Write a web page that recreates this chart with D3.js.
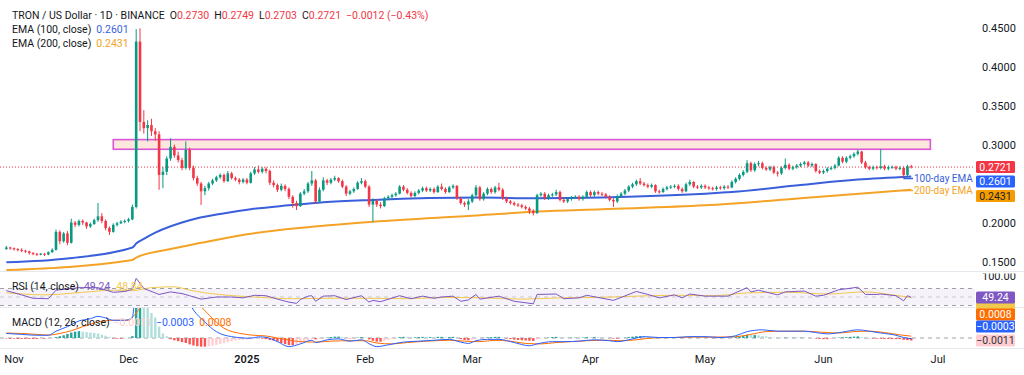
<!DOCTYPE html>
<html>
<head>
<meta charset="utf-8">
<script src="https://cdn.jsdelivr.net/npm/d3@7"></script>
<style>
  body { margin: 0; background: #fff; }
  svg { display: block; font-family: Roboto, "Noto Sans", sans-serif; }
</style>
</head>
<body>
<svg id="chart" width="1024" height="375"></svg>
<script>
// TRX/USD daily, 30 Oct 2024 -> 24 Jun 2025 (one value per day)
const startDay = new Date(Date.UTC(2024, 9, 30));
const firstOpen = 0.167;

const closes = [
  0.169,0.168,0.167,0.166,0.165,0.164,0.162,0.161,0.160,0.161,
  0.160,0.163,0.166,0.189,0.177,0.187,0.175,0.201,0.198,0.203,
  0.201,0.196,0.199,0.204,0.209,0.203,0.194,0.189,0.198,0.200,
  0.202,0.203,0.205,0.221,0.433,0.330,0.322,0.326,0.318,0.314,
  0.262,0.266,0.283,0.298,0.287,0.281,0.271,0.294,0.271,0.258,
  0.251,0.241,0.245,0.251,0.255,0.259,0.262,0.254,0.264,0.258,
  0.256,0.253,0.256,0.252,0.264,0.269,0.266,0.270,0.267,0.252,
  0.249,0.243,0.248,0.244,0.234,0.226,0.222,0.238,0.241,0.251,
  0.255,0.228,0.243,0.255,0.252,0.256,0.258,0.254,0.247,0.238,
  0.241,0.244,0.252,0.254,0.247,0.224,0.229,0.224,0.222,0.232,
  0.234,0.236,0.238,0.247,0.243,0.239,0.235,0.239,0.242,0.245,
  0.242,0.244,0.240,0.247,0.244,0.240,0.246,0.248,0.232,0.226,
  0.224,0.228,0.236,0.246,0.231,0.238,0.244,0.240,0.246,0.243,
  0.232,0.228,0.226,0.224,0.223,0.221,0.219,0.216,0.213,0.236,
  0.238,0.232,0.236,0.237,0.240,0.230,0.228,0.231,0.233,0.234,
  0.231,0.234,0.240,0.236,0.240,0.238,0.237,0.234,0.230,0.228,
  0.235,0.238,0.242,0.247,0.250,0.254,0.251,0.249,0.247,0.249,
  0.241,0.240,0.244,0.246,0.247,0.248,0.244,0.241,0.250,0.253,
  0.247,0.246,0.248,0.246,0.245,0.244,0.246,0.245,0.247,0.246,
  0.253,0.257,0.262,0.266,0.277,0.268,0.276,0.277,0.271,0.269,
  0.272,0.265,0.264,0.271,0.275,0.270,0.272,0.274,0.276,0.278,
  0.274,0.276,0.267,0.265,0.267,0.270,0.271,0.274,0.284,0.279,
  0.284,0.286,0.289,0.292,0.278,0.272,0.270,0.272,0.271,0.273,
  0.270,0.272,0.272,0.270,0.271,0.262,0.273,0.2721
];
const highs = [
  0.171,0.170,0.169,0.168,0.168,0.166,0.165,0.163,0.162,0.162,
  0.162,0.164,0.168,0.192,0.191,0.189,0.190,0.206,0.203,0.205,
  0.205,0.202,0.201,0.206,0.226,0.213,0.205,0.196,0.200,0.202,
  0.204,0.205,0.207,0.224,0.449,0.450,0.345,0.332,0.334,0.322,
  0.318,0.272,0.286,0.309,0.301,0.292,0.284,0.305,0.297,0.274,
  0.261,0.253,0.248,0.253,0.257,0.261,0.264,0.264,0.267,0.266,
  0.260,0.258,0.258,0.258,0.266,0.272,0.274,0.272,0.272,0.269,
  0.255,0.251,0.251,0.250,0.246,0.236,0.229,0.240,0.244,0.253,
  0.267,0.257,0.246,0.259,0.257,0.258,0.261,0.259,0.256,0.249,
  0.243,0.246,0.254,0.258,0.256,0.249,0.232,0.231,0.227,0.234,
  0.236,0.238,0.240,0.249,0.249,0.245,0.241,0.241,0.244,0.247,
  0.247,0.246,0.246,0.249,0.251,0.246,0.248,0.250,0.249,0.234,
  0.228,0.231,0.238,0.249,0.248,0.240,0.246,0.246,0.248,0.252,
  0.245,0.234,0.230,0.228,0.226,0.225,0.223,0.221,0.218,0.238,
  0.240,0.240,0.238,0.239,0.243,0.242,0.232,0.233,0.235,0.236,
  0.236,0.236,0.242,0.242,0.242,0.242,0.240,0.239,0.236,0.232,
  0.237,0.240,0.244,0.249,0.252,0.256,0.258,0.253,0.251,0.251,
  0.250,0.243,0.246,0.248,0.249,0.250,0.250,0.246,0.252,0.256,
  0.254,0.249,0.250,0.250,0.248,0.247,0.248,0.248,0.249,0.249,
  0.255,0.259,0.264,0.268,0.281,0.279,0.278,0.280,0.279,0.273,
  0.274,0.274,0.267,0.273,0.283,0.277,0.274,0.276,0.278,0.280,
  0.280,0.278,0.277,0.269,0.269,0.272,0.273,0.276,0.286,0.286,
  0.286,0.288,0.291,0.294,0.293,0.280,0.274,0.274,0.274,0.295,
  0.275,0.274,0.274,0.274,0.273,0.273,0.275,0.2749
];
const lows = [
  0.166,0.166,0.165,0.164,0.163,0.162,0.160,0.159,0.158,0.159,
  0.158,0.159,0.162,0.165,0.173,0.175,0.172,0.174,0.195,0.196,
  0.198,0.193,0.194,0.198,0.202,0.200,0.191,0.185,0.188,0.196,
  0.199,0.200,0.201,0.204,0.219,0.318,0.315,0.305,0.312,0.306,
  0.243,0.245,0.262,0.280,0.284,0.278,0.268,0.269,0.268,0.255,
  0.248,0.2235,0.236,0.242,0.249,0.253,0.257,0.252,0.253,0.256,
  0.254,0.250,0.251,0.250,0.251,0.262,0.264,0.264,0.264,0.249,
  0.246,0.240,0.241,0.241,0.231,0.220,0.217,0.221,0.236,0.239,
  0.248,0.225,0.226,0.241,0.249,0.250,0.254,0.252,0.245,0.235,
  0.236,0.239,0.243,0.250,0.245,0.221,0.202,0.221,0.219,0.221,
  0.230,0.232,0.234,0.237,0.241,0.237,0.233,0.233,0.237,0.240,
  0.240,0.240,0.238,0.239,0.242,0.238,0.239,0.244,0.230,0.224,
  0.221,0.217,0.226,0.234,0.229,0.229,0.236,0.238,0.238,0.241,
  0.230,0.226,0.224,0.222,0.221,0.219,0.217,0.212,0.210,0.212,
  0.234,0.230,0.230,0.234,0.235,0.228,0.226,0.226,0.229,0.231,
  0.229,0.229,0.232,0.234,0.234,0.236,0.235,0.232,0.228,0.221,
  0.226,0.233,0.236,0.240,0.245,0.248,0.249,0.247,0.245,0.245,
  0.239,0.238,0.239,0.242,0.244,0.245,0.242,0.239,0.240,0.248,
  0.245,0.244,0.244,0.244,0.243,0.242,0.242,0.243,0.243,0.244,
  0.245,0.251,0.255,0.260,0.264,0.266,0.266,0.273,0.269,0.267,
  0.267,0.263,0.260,0.262,0.269,0.268,0.268,0.270,0.272,0.274,
  0.272,0.272,0.265,0.263,0.263,0.265,0.268,0.269,0.273,0.277,
  0.277,0.282,0.284,0.287,0.276,0.270,0.268,0.268,0.269,0.269,
  0.268,0.268,0.270,0.268,0.268,0.259,0.260,0.2703
];

// EMA lines: [day index, value]
const ema100 = [[0,0.150],[16,0.155],[33,0.169],[34,0.174],[36,0.180],[39,0.188],[48,0.204],[56,0.212],
  [64,0.218],[74,0.223],[83,0.227],[96,0.230],[124,0.233],[139,0.232],[156,0.233],[163,0.234],
  [183,0.238],[190,0.240],[208,0.249],[223,0.256],[237,0.2601]];
const ema200 = [[0,0.140],[33,0.153],[34,0.156],[42,0.166],[51,0.175],[63,0.186],[79,0.195],[96,0.202],
  [123,0.210],[139,0.215],[156,0.218],[183,0.223],[208,0.232],[237,0.2431]];

// RSI (14) and its MA: [day index, value]
const rsi = [[0,65],[4,55],[7,47],[11,46],[13,66],[19,72],[24,72],[28,61],[31,63],[33,68],[34,94],[36,70],
  [40,56],[43,62],[46,58],[48,53],[51,45],[55,50],[59,50],[62,48],[65,54],[68,53],[71,45],[74,38],[76,35],
  [77,44],[79,52],[80,53],[81,40],[83,52],[86,53],[89,44],[93,53],[95,38],[96,42],[98,39],[103,53],[106,46],
  [109,52],[112,47],[114,50],[117,52],[119,40],[121,43],[123,56],[124,45],[129,52],[133,40],[138,34],[139,56],
  [144,57],[146,46],[150,48],[152,54],[159,42],[165,63],[168,56],[171,48],[175,55],[177,48],[179,57],[183,52],
  [189,52],[194,72],[195,62],[197,66],[202,55],[204,62],[209,64],[212,52],[214,54],[218,67],[223,73],[225,56],
  [228,56],[229,57],[233,53],[235,41],[236,53],[237,49.24]];
const rsiMa = [[0,60],[10,55],[20,61],[28,66],[33,65],[38,72],[44,74],[48,66],[52,60],[58,54],[65,50],[75,46],
  [85,47],[95,47],[105,46],[115,49],[125,48],[135,45],[145,48],[155,49],[165,52],[175,54],[185,53],[195,60],
  [205,61],[215,57],[225,62],[232,55],[237,48.84]];

// MACD (12, 26): lines as [day index, value], histogram per day in 1e-4
const macd = [[0,20],[4,16],[8,12],[11,12],[13,30],[16,50],[19,75],[22,85],[24,95],[26,88],[28,78],[31,78],
  [33,90],[34,250],[37,300],[45,250],[49,123],[52,70],[55,28],[59,6],[64,-1],[66,5],[68,3],[71,-16],[74,-38],
  [77,-26],[80,-10],[81,-20],[84,-8],[87,-4],[90,-14],[93,-8],[95,-25],[97,-38],[100,-30],[104,-18],[108,-14],
  [112,-10],[116,-6],[119,-18],[121,-24],[123,-12],[126,-6],[129,-6],[133,-20],[137,-34],[139,-26],[143,-16],
  [146,-16],[150,-14],[154,-8],[158,-12],[160,-16],[164,-4],[167,6],[171,2],[175,2],[179,6],[183,6],[187,2],
  [191,10],[194,28],[198,36],[202,30],[205,30],[209,30],[212,24],[215,18],[219,26],[223,36],[226,30],[229,22],
  [233,12],[235,2],[237,-3]];
const signal = [[0,22],[4,20],[8,16],[11,13],[14,20],[17,32],[20,50],[24,70],[28,78],[32,78],[34,110],[38,200],
  [45,240],[52,120],[57,43],[62,18],[64,13],[68,9],[71,0],[74,-9],[77,-16],[81,-18],[85,-14],[90,-12],[94,-12],
  [97,-22],[101,-26],[105,-20],[110,-14],[116,-10],[120,-14],[124,-16],[128,-10],[132,-14],[136,-24],[140,-26],
  [144,-20],[148,-16],[152,-12],[157,-10],[161,-12],[165,-8],[169,0],[174,2],[180,4],[186,4],[191,6],[195,16],
  [199,28],[204,30],[209,30],[213,26],[218,22],[222,28],[226,30],[230,24],[234,14],[237,8]];
const hist = [
  -2,-3,-3,-4,-4,-4,-4,-4,-4,-3,
  -3,-2,-1,4,8,12,18,24,28,30,
  28,26,24,22,20,14,10,5,-2,-3,
  -3,-2,-1,8,150,180,160,140,110,90,
  50,20,8,-5,-10,-14,-18,-22,-28,-33,
  -36,-38,-38,-36,-33,-30,-26,-22,-18,-14,
  -10,-9,-8,-7,-5,-3,-2,-3,-5,-9,
  -12,-16,-22,-27,-31,-32,-30,-24,-16,-10,
  -4,-6,-4,0,2,4,6,6,4,0,
  -2,-1,2,4,2,-6,-12,-16,-16,-12,
  -8,-4,-1,4,5,4,3,3,4,5,
  4,4,3,5,5,3,4,5,0,-5,
  -9,-10,-8,-3,0,1,3,3,5,5,
  2,-2,-5,-7,-9,-10,-11,-12,-13,-6,
  -2,0,2,4,5,3,1,1,1,2,
  1,2,4,3,4,3,2,1,-1,-3,
  -3,-1,1,4,6,8,8,7,6,5,
  2,0,0,1,1,1,0,-1,1,2,
  1,1,1,1,0,-1,-1,-1,0,0,
  2,4,7,10,14,13,13,12,9,7,
  5,2,0,1,2,1,1,1,1,1,
  0,0,-2,-4,-5,-5,-4,-2,2,3,
  4,5,6,7,4,1,-1,-2,-3,-3,
  -4,-4,-5,-5,-5,-8,-9,-11
];

// resistance zone (day index span, price span)
const zoneDays = [28, 242];
const zonePrice = [0.2949, 0.3073];

// 0.2500 sits under the value tags, so the axis does not print it
const priceTicks = [0.15, 0.20, 0.30, 0.35, 0.40, 0.45];
const monthTicks = [
  [Date.UTC(2024, 10, 1), 'Nov'], [Date.UTC(2024, 11, 1), 'Dec'], [Date.UTC(2025, 0, 1), '2025'],
  [Date.UTC(2025, 1, 1), 'Feb'], [Date.UTC(2025, 2, 1), 'Mar'], [Date.UTC(2025, 3, 1), 'Apr'],
  [Date.UTC(2025, 4, 1), 'May'], [Date.UTC(2025, 5, 1), 'Jun'], [Date.UTC(2025, 6, 1), 'Jul']
];
const lastBar = { o: 0.2730, h: 0.2749, l: 0.2703, c: 0.2721, chg: -0.0012, pct: -0.43 };
const lastEma = { e100: 0.2601, e200: 0.2431 };
const lastRsi = { rsi: 49.24, ma: 48.84 };
const lastMacd = { hist: -0.0011, macd: -0.0003, signal: 0.0008 };

const UP = '#089981', DOWN = '#f23645', BLUE = '#3a5fdb', ORANGE = '#f5a327';
const PURPLE = '#7e57c2', YELLOW = '#f2c94c', MBLUE = '#2962ff', MORANGE = '#ff6d00';

const svg = d3.select('#chart');
const plotR = 975;

const x = d3.scaleUtc().domain([Date.UTC(2024, 10, 1), Date.UTC(2025, 6, 1)]).range([14, 938]);
const dayX = i => x(d3.utcDay.offset(startDay, i));
const y = d3.scaleLinear().domain([0.15, 0.45]).range([262.3, 28.3]);
const yRsi = d3.scaleLinear().domain([30, 70]).range([305.5, 288.5]);
const yMacd = d3.scaleLinear().domain([-0.0044, 0.0132]).range([348, 308]);

const defs = svg.append('defs');
const clip = (id, x0, y0, w, h) => defs.append('clipPath').attr('id', id)
  .append('rect').attr('x', x0).attr('y', y0).attr('width', w).attr('height', h);
clip('cp-price', 0, 8, plotR, 263);
clip('cp-rsi', 0, 272, plotR, 35);
clip('cp-macd', 0, 308, plotR, 40);
clip('cp-rsiaxis', plotR, 273.5, 60, 34);

// pane separators
svg.selectAll('line.sep').data([271.5, 307.5, 348.5]).join('line')
  .attr('class', 'sep')
  .attr('x1', 0).attr('x2', 1024)
  .attr('y1', d => d).attr('y2', d => d)
  .attr('stroke', '#e6e8ee');

// ---------- price pane ----------
const price = svg.append('g').attr('clip-path', 'url(#cp-price)');

price.append('rect')
  .attr('x', dayX(zoneDays[0]))
  .attr('width', dayX(zoneDays[1]) - dayX(zoneDays[0]))
  .attr('y', y(zonePrice[1]))
  .attr('height', y(zonePrice[0]) - y(zonePrice[1]))
  .attr('fill', '#fde6dc')
  .attr('stroke', '#d957d6')
  .attr('stroke-width', 1.6);

price.append('line')
  .attr('x1', 0).attr('x2', plotR)
  .attr('y1', y(lastBar.c)).attr('y2', y(lastBar.c))
  .attr('stroke', DOWN).attr('stroke-width', 1)
  .attr('stroke-dasharray', '1,2');

const emaLine = d3.line().x(d => dayX(d[0])).y(d => y(d[1])).curve(d3.curveMonotoneX);
price.append('path').attr('d', emaLine(ema200)).attr('fill', 'none').attr('stroke', ORANGE).attr('stroke-width', 2);
price.append('path').attr('d', emaLine(ema100)).attr('fill', 'none').attr('stroke', BLUE).attr('stroke-width', 2);

const bars = closes.map((c, i) => ({ i, o: i ? closes[i - 1] : firstOpen, h: highs[i], l: lows[i], c }));
bars[bars.length - 1].o = lastBar.o;

let candle = price.selectAll('g.candle')
  .data(bars)
  .join('g')
  .attr('class', 'candle')
  .attr('transform', d => `translate(${dayX(d.i)},0)`);

candle.append('line')
  .attr('y1', d => y(d.h)).attr('y2', d => y(d.l))
  .attr('stroke', d => d.c >= d.o ? UP : DOWN)
  .attr('stroke-width', 1);

candle.append('rect')
  .attr('x', -1.3).attr('width', 2.6)
  .attr('y', d => y(Math.max(d.o, d.c)))
  .attr('height', d => Math.max(1, Math.abs(y(d.o) - y(d.c))))
  .attr('fill', d => d.c >= d.o ? UP : DOWN);

// EMA callouts
const lastI = closes.length - 1;
const callouts = [
  { ty: 178.5, text: '100-day EMA', color: BLUE },
  { ty: 190.5, text: '200-day EMA', color: ORANGE }
];
callouts.forEach(c => {
  svg.append('line')
    .attr('x1', dayX(lastI) - 8).attr('x2', 913)
    .attr('y1', c.ty).attr('y2', c.ty)
    .attr('stroke', c.color).attr('stroke-width', 1.5);
  svg.append('text')
    .attr('x', 914).attr('y', c.ty).attr('dy', '0.35em')
    .attr('font-size', 10).attr('fill', c.color)
    .text(c.text);
});

// price axis
const yAxis = d3.axisRight(y).tickValues(priceTicks).tickFormat(d3.format('.4f')).tickSize(0).tickPadding(0);
svg.append('g')
  .attr('transform', 'translate(982,0)')
  .call(yAxis)
  .call(g => g.select('.domain').remove())
  .attr('font-family', null).attr('font-size', 11)
  .selectAll('text').attr('fill', '#131722');

// ---------- RSI pane ----------
const rsiG = svg.append('g').attr('clip-path', 'url(#cp-rsi)');
rsiG.append('rect')
  .attr('x', 0).attr('width', plotR)
  .attr('y', yRsi(70)).attr('height', yRsi(30) - yRsi(70))
  .attr('fill', PURPLE).attr('fill-opacity', 0.08);
rsiG.selectAll('line.band').data([70, 50, 30]).join('line')
  .attr('class', 'band')
  .attr('x1', 0).attr('x2', plotR)
  .attr('y1', d => yRsi(d)).attr('y2', d => yRsi(d))
  .attr('stroke', '#787b86').attr('stroke-opacity', d => d === 50 ? 0.35 : 0.7)
  .attr('stroke-dasharray', '4,4');

const rsiLine = d3.line().x(d => dayX(d[0])).y(d => yRsi(d[1]));
rsiG.append('path').attr('d', rsiLine.curve(d3.curveMonotoneX)(rsiMa)).attr('fill', 'none').attr('stroke', YELLOW).attr('stroke-width', 1);
rsiG.append('path').attr('d', rsiLine.curve(d3.curveLinear)(rsi)).attr('fill', 'none').attr('stroke', PURPLE).attr('stroke-width', 1);

svg.append('g').attr('clip-path', 'url(#cp-rsiaxis)')
  .append('text')
  .attr('x', 982).attr('y', yRsi(100)).attr('dy', '0.35em')
  .attr('font-size', 11).attr('fill', '#131722')
  .text(d3.format('.2f')(100));

// ---------- MACD pane ----------
const macdG = svg.append('g').attr('clip-path', 'url(#cp-macd)');
macdG.append('line')
  .attr('x1', 0).attr('x2', plotR)
  .attr('y1', yMacd(0)).attr('y2', yMacd(0))
  .attr('stroke', '#787b86').attr('stroke-opacity', 0.7)
  .attr('stroke-dasharray', '4,4');

const histColor = (v, p) => v >= 0 ? (v >= p ? '#26a69a' : '#b2dfdb') : (v <= p ? '#ff5252' : '#ffcdd2');
macdG.selectAll('rect.hist')
  .data(hist.map((v, i) => ({ i, v: v / 1e4, p: (i ? hist[i - 1] : v) / 1e4 })))
  .join('rect')
  .attr('class', 'hist')
  .attr('x', d => dayX(d.i) - 1.2).attr('width', 2.4)
  .attr('y', d => yMacd(Math.max(0, d.v)))
  .attr('height', d => Math.abs(yMacd(d.v) - yMacd(0)))
  .attr('fill', d => histColor(d.v, d.p));

const macdLine = d3.line().x(d => dayX(d[0])).y(d => yMacd(d[1] / 1e4)).curve(d3.curveMonotoneX);
macdG.append('path').attr('d', macdLine(signal)).attr('fill', 'none').attr('stroke', MORANGE).attr('stroke-width', 1);
macdG.append('path').attr('d', macdLine(macd)).attr('fill', 'none').attr('stroke', MBLUE).attr('stroke-width', 1);

// ---------- time axis ----------
svg.append('g')
  .selectAll('text')
  .data(monthTicks)
  .join('text')
  .attr('x', d => x(d[0])).attr('y', 363)
  .attr('text-anchor', 'middle')
  .attr('font-size', 11)
  .attr('font-weight', d => d[1] === '2025' ? 600 : 400)
  .attr('fill', '#131722')
  .text(d => d[1]);

// ---------- right-hand value tags ----------
const f4 = d3.format('.4f');
const minus = s => s.replace('-', '−');

// RSI-MA tag sits mostly hidden under its neighbours, only a strip shows
svg.append('rect')
  .attr('x', 976).attr('width', 39)
  .attr('y', 302).attr('height', 12)
  .attr('rx', 1.5).attr('fill', YELLOW);

const tags = [
  { cy: 167, text: f4(lastBar.c), bg: DOWN, fg: '#fff' },
  { cy: 181.5, text: f4(lastEma.e100), bg: MBLUE, fg: '#fff' },
  { cy: 196, text: f4(lastEma.e200), bg: '#f59c00', fg: '#222' },
  { cy: 297.5, text: lastRsi.rsi.toFixed(2), bg: PURPLE, fg: '#fff' },
  { cy: 314.5, text: f4(lastMacd.signal), bg: MORANGE, fg: '#fff' },
  { cy: 326.5, text: minus(f4(lastMacd.macd)), bg: MBLUE, fg: '#fff' },
  { cy: 340.5, text: minus(f4(lastMacd.hist)), bg: '#ffcdd2', fg: '#333' }
];
let tag = svg.selectAll('g.tag').data(tags).join('g').attr('class', 'tag');
tag.append('rect')
  .attr('x', 976).attr('width', 39)
  .attr('y', d => d.cy - 6).attr('height', 12)
  .attr('rx', 1.5)
  .attr('fill', d => d.bg);
tag.append('text')
  .attr('x', 995.5).attr('y', d => d.cy).attr('dy', '0.35em')
  .attr('text-anchor', 'middle')
  .attr('font-size', 10.5)
  .attr('fill', d => d.fg)
  .text(d => d.text);

// ---------- legends ----------
const legend = (yy, parts) => {
  let t = svg.append('text').attr('x', 12).attr('y', yy).attr('font-size', 10.5);
  parts.forEach(([s, c, gap]) => t.append('tspan').attr('dx', gap || 0).attr('fill', c).text(s));
};
const red = DOWN, ink = '#131722';
legend(18.5, [
  ['TRON / US Dollar · 1D · BINANCE', ink],
  ['O', ink, 5], [f4(lastBar.o), red],
  ['H', ink, 5], [f4(lastBar.h), red],
  ['L', ink, 5], [f4(lastBar.l), red],
  ['C', ink, 5], [f4(lastBar.c), red],
  [`${minus(f4(lastBar.chg))} (${minus(lastBar.pct.toFixed(2))}%)`, red, 5]
]);
legend(32.5, [['EMA (100, close)', ink], [f4(lastEma.e100), BLUE, 5]]);
legend(46.5, [['EMA (200, close)', ink], [f4(lastEma.e200), ORANGE, 5]]);
legend(290, [['RSI (14, close)', ink], [lastRsi.rsi.toFixed(2), PURPLE, 5], [lastRsi.ma.toFixed(2), YELLOW, 6]]);
legend(326, [['MACD (12, 26, close)', ink], [minus(f4(lastMacd.hist)), '#ffcdd2', 4],
  [minus(f4(lastMacd.macd)), MBLUE, 4], [f4(lastMacd.signal), MORANGE, 5]]);
</script>
</body>
</html>
